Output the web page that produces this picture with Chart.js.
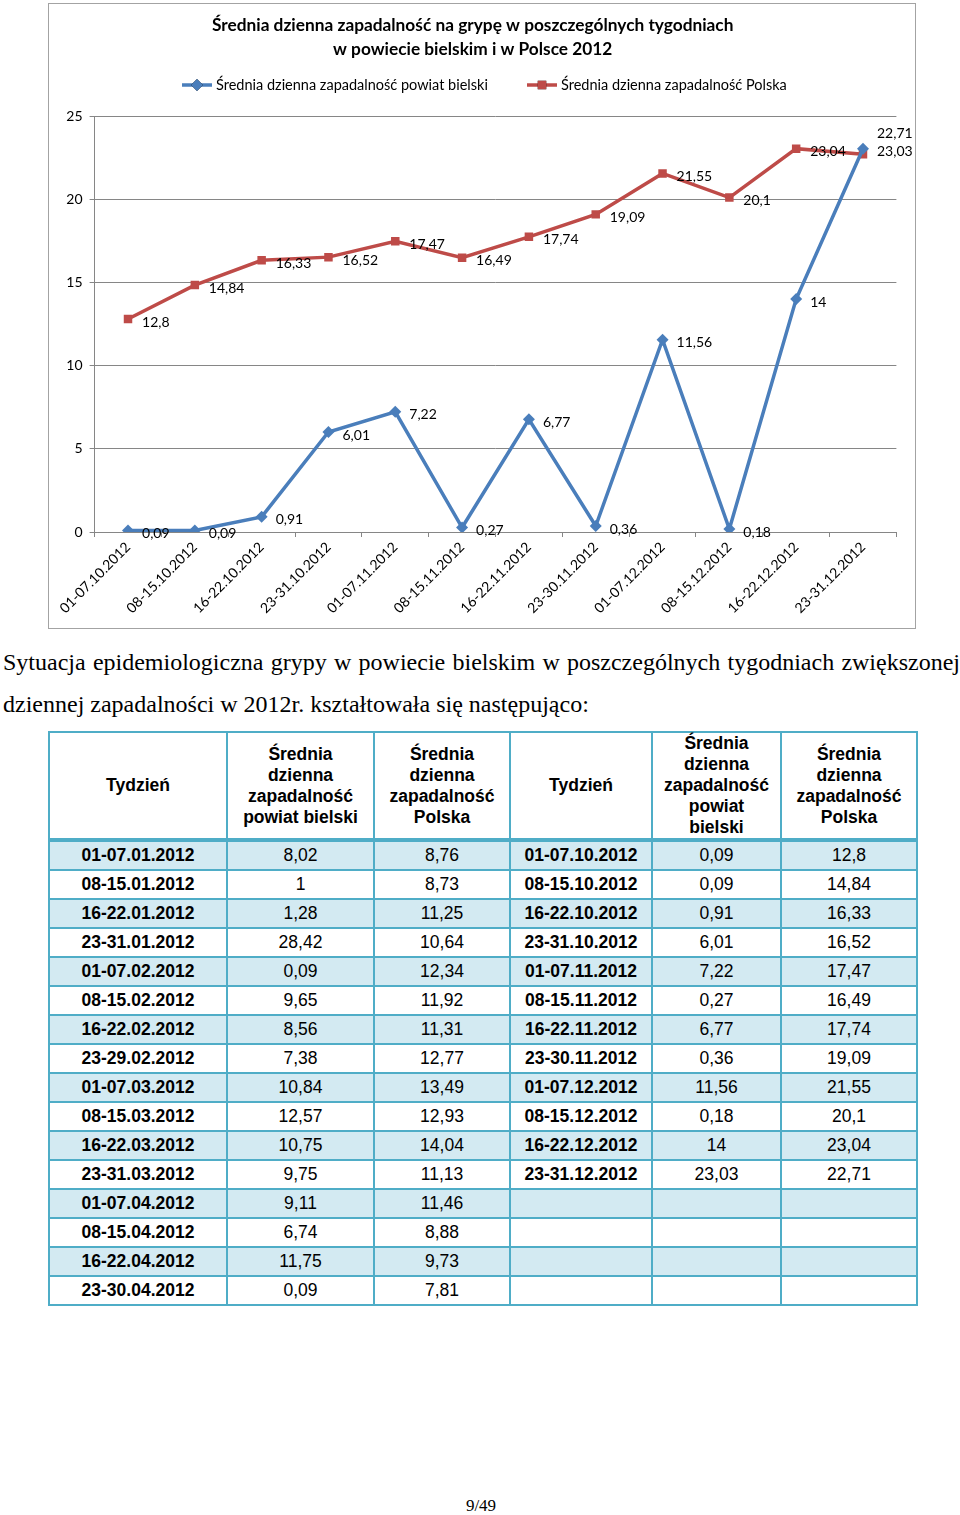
<!DOCTYPE html>
<html lang="pl">
<head>
<meta charset="utf-8">
<title>Średnia dzienna zapadalność na grypę 2012</title>
<script src="https://cdn.jsdelivr.net/npm/chart.js@4.4.1/dist/chart.umd.min.js"></script>
<style>
    html, body { margin: 0; padding: 0; background: #fff; }
    body { position: relative; width: 960px; height: 1515px; overflow: hidden; }
    #chart-box {
        position: absolute; left: 48px; top: 3px; width: 868px; height: 626px;
        border: 1px solid #a3a3a3; box-sizing: border-box; background: #fff;
    }
    .para {
        position: absolute; left: 3px; width: 957px;
        font-family: "Liberation Serif", "DejaVu Serif", serif; font-size: 24px;
        color: #000; white-space: nowrap; line-height: 26px;
    }
    #p1 { top: 649px; text-align: justify; text-align-last: justify; }
    #p2 { top: 691px; }
    #tabela {
        position: absolute; left: 48px; top: 731px; width: 868px;
        border-collapse: collapse; table-layout: fixed;
        font-family: "Liberation Sans", Arial, sans-serif; font-size: 17.5px; color: #000;
    }
    #tabela td, #tabela th {
        border: 2px solid #4fadc7; text-align: center; padding: 0; height: 27px;
    }
    #tabela th { font-weight: bold; height: 100px; line-height: 21px; border-bottom: 4px solid #4fadc7; }
    #tabela td.t { font-weight: bold; }
    #tabela tr.s td { background: #d3eaf2; }
    #strona {
        position: absolute; left: 0; width: 962px; top: 1496px; text-align: center;
        font-family: "Liberation Serif", serif; font-size: 17px; color: #000;
    }
</style>
</head>
<body>
<div id="chart-box"><canvas id="wykres"></canvas></div>
<div class="para" id="p1">Sytuacja epidemiologiczna grypy w powiecie bielskim w poszczególnych tygodniach zwiększonej</div>
<div class="para" id="p2">dziennej zapadalności w 2012r. kształtowała się następująco:</div>
<table id="tabela">
    <colgroup>
        <col style="width:178px"><col style="width:147px"><col style="width:136px">
        <col style="width:142px"><col style="width:129px"><col style="width:136px">
    </colgroup>
    <thead>
        <tr>
            <th>Tydzień</th>
            <th>Średnia<br>dzienna<br>zapadalność<br>powiat bielski</th>
            <th>Średnia<br>dzienna<br>zapadalność<br>Polska</th>
            <th>Tydzień</th>
            <th>Średnia<br>dzienna<br>zapadalność<br>powiat<br>bielski</th>
            <th>Średnia<br>dzienna<br>zapadalność<br>Polska</th>
        </tr>
    </thead>
    <tbody id="tabela-body"></tbody>
</table>
<div id="strona">9/49</div>

<script>
// Tygodnie X-XII 2012 (oś X wykresu i prawa część tabeli)
const tygodnie = [
    '01-07.10.2012', '08-15.10.2012', '16-22.10.2012', '23-31.10.2012',
    '01-07.11.2012', '08-15.11.2012', '16-22.11.2012', '23-30.11.2012',
    '01-07.12.2012', '08-15.12.2012', '16-22.12.2012', '23-31.12.2012'
];
const powiatBielski = [0.09, 0.09, 0.91, 6.01, 7.22, 0.27, 6.77, 0.36, 11.56, 0.18, 14, 23.03];
const polska = [12.8, 14.84, 16.33, 16.52, 17.47, 16.49, 17.74, 19.09, 21.55, 20.1, 23.04, 22.71];

// Tygodnie I-IV 2012 (lewa część tabeli)
const tygodnieWiosna = [
    '01-07.01.2012', '08-15.01.2012', '16-22.01.2012', '23-31.01.2012',
    '01-07.02.2012', '08-15.02.2012', '16-22.02.2012', '23-29.02.2012',
    '01-07.03.2012', '08-15.03.2012', '16-22.03.2012', '23-31.03.2012',
    '01-07.04.2012', '08-15.04.2012', '16-22.04.2012', '23-30.04.2012'
];
const powiatBielskiWiosna = [8.02, 1, 1.28, 28.42, 0.09, 9.65, 8.56, 7.38, 10.84, 12.57, 10.75, 9.75, 9.11, 6.74, 11.75, 0.09];
const polskaWiosna = [8.76, 8.73, 11.25, 10.64, 12.34, 11.92, 11.31, 12.77, 13.49, 12.93, 14.04, 11.13, 11.46, 8.88, 9.73, 7.81];

const osY = [0, 25, 5]; // min, max, krok

const kolory = {
    powiat: '#4a7ebb',
    polska: '#be4b48',
    siatka: '#868686'
};

const FONT = 'Lato, "Open Sans", sans-serif';

// liczby po polsku - przecinek zamiast kropki
function fmt(v) {
    return String(v).replace('.', ',');
}

// Tabela
const tbody = document.getElementById('tabela-body');
tygodnieWiosna.forEach((tydz, i) => {
    const tr = document.createElement('tr');
    if (i % 2 === 0) tr.className = 's';
    const komorki = [
        [tydz, 't'], [fmt(powiatBielskiWiosna[i]), ''], [fmt(polskaWiosna[i]), ''],
        [tygodnie[i] || '', 't'],
        [i < powiatBielski.length ? fmt(powiatBielski[i]) : '', ''],
        [i < polska.length ? fmt(polska[i]) : '', '']
    ];
    komorki.forEach(([txt, cls]) => {
        const td = document.createElement('td');
        td.textContent = txt;
        if (cls) td.className = cls;
        tr.appendChild(td);
    });
    tbody.appendChild(tr);
});

// Etykiety wartości przy punktach (jak w Excelu - po prawej stronie)
const etykietyPlugin = {
    id: 'etykiety',
    afterDatasetsDraw(chart) {
        const ctx = chart.ctx;
        ctx.save();
        ctx.font = '14px ' + FONT;
        ctx.fillStyle = '#000';
        ctx.textAlign = 'left';
        ctx.textBaseline = 'middle';
        chart.data.datasets.forEach((ds, di) => {
            const meta = chart.getDatasetMeta(di);
            meta.data.forEach((pt, i) => {
                let dy = 3;
                // ostatni punkt Polski - etykieta nad etykietą powiatu
                if (di === 1 && i === ds.data.length - 1) dy = -21;
                ctx.fillText(fmt(ds.data[i]), pt.x + 14, pt.y + dy);
            });
        });
        ctx.restore();
    }
};

// Legenda: linia z markerem + opis
const legendaPlugin = {
    id: 'legenda',
    afterDraw(chart) {
        const ctx = chart.ctx;
        const y = 81;
        const pozycje = [133, 478];
        ctx.save();
        chart.data.datasets.forEach((ds, di) => {
            const x0 = pozycje[di];
            ctx.strokeStyle = ds.borderColor;
            ctx.lineWidth = 3.5;
            ctx.beginPath();
            ctx.moveTo(x0, y);
            ctx.lineTo(x0 + 30, y);
            ctx.stroke();
            Chart.helpers.drawPoint(ctx, {
                pointStyle: ds.pointStyle,
                radius: ds.pointRadius,
                borderWidth: 0
            }, x0 + 15, y);
            ctx.fillStyle = ds.pointBackgroundColor;
            ctx.fill();
            ctx.fillStyle = '#000';
            ctx.font = '14.5px ' + FONT;
            ctx.textAlign = 'left';
            ctx.textBaseline = 'middle';
            ctx.fillText(ds.label, x0 + 34, y);
        });
        ctx.restore();
    }
};

new Chart(document.getElementById('wykres'), {
    type: 'line',
    data: {
        labels: tygodnie,
        datasets: [
            {
                label: 'Średnia dzienna zapadalność powiat bielski',
                data: powiatBielski,
                borderColor: kolory.powiat,
                backgroundColor: kolory.powiat,
                pointBackgroundColor: kolory.powiat,
                pointBorderColor: kolory.powiat,
                pointStyle: 'rectRot',
                pointRadius: 6,
                pointBorderWidth: 0,
                borderWidth: 3.5,
                tension: 0
            },
            {
                label: 'Średnia dzienna zapadalność Polska',
                data: polska,
                borderColor: kolory.polska,
                backgroundColor: kolory.polska,
                pointBackgroundColor: kolory.polska,
                pointBorderColor: kolory.polska,
                pointStyle: 'rect',
                pointRadius: 6,
                pointBorderWidth: 0,
                borderWidth: 3.5,
                tension: 0
            }
        ]
    },
    options: {
        responsive: true,
        maintainAspectRatio: false,
        animation: false,
        layout: {
            padding: { top: 9, left: 0, right: 18.6, bottom: 0 }
        },
        plugins: {
            legend: { display: false },
            tooltip: { enabled: false },
            title: {
                display: true,
                text: ['Średnia dzienna zapadalność na grypę w poszczególnych tygodniach',
                       'w powiecie bielskim i w Polsce 2012'],
                color: '#000',
                font: { family: FONT, size: 17.3, weight: 'bold', lineHeight: 1.4 },
                padding: { top: 0, bottom: 54.6 }
            }
        },
        scales: {
            x: {
                offset: true,
                afterFit(scale) { scale.height = 96; },
                grid: {
                    offset: true,
                    drawOnChartArea: false,
                    drawTicks: true,
                    tickLength: 5,
                    color: kolory.siatka
                },
                border: { color: kolory.siatka, width: 1 },
                ticks: {
                    minRotation: 45,
                    maxRotation: 45,
                    autoSkip: false,
                    padding: 2,
                    color: '#000',
                    font: { family: FONT, size: 14 }
                }
            },
            y: {
                min: osY[0],
                max: osY[1],
                afterFit(scale) { scale.width = 45.6; },
                grid: {
                    color: kolory.siatka,
                    drawTicks: true,
                    tickLength: 5
                },
                border: { color: kolory.siatka, width: 1 },
                ticks: {
                    stepSize: osY[2],
                    padding: 7,
                    color: '#000',
                    font: { family: FONT, size: 14 }
                }
            }
        }
    },
    plugins: [etykietyPlugin, legendaPlugin]
});
</script>
</body>
</html>
